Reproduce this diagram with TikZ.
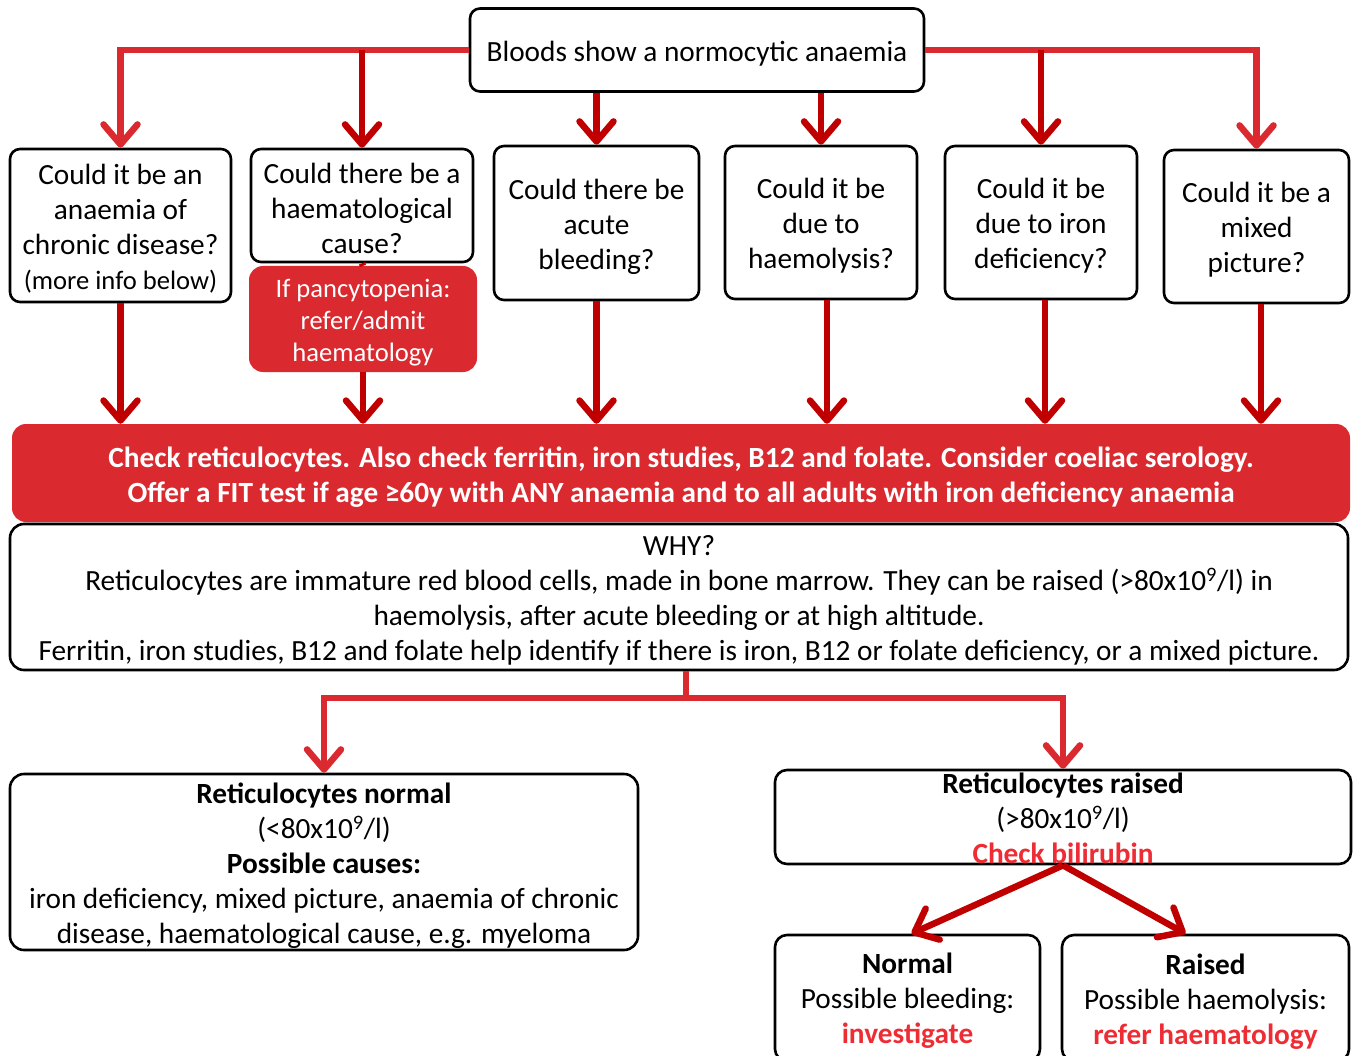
\documentclass[tikz,border=0pt]{standalone}
\usepackage{fontspec}
\setmainfont{Carlito}
\usetikzlibrary{arrows.meta}
\definecolor{lred}{RGB}{218,41,47}
\definecolor{dred}{RGB}{192,0,0}
\definecolor{tred}{RGB}{238,44,52}
\newcommand{\mainfs}{\fontsize{29.3}{35}\selectfont}
\newcommand{\smallfs}{\fontsize{26.6}{32}\selectfont}
\tikzset{
  box/.style={draw=black, line width=2.6pt, rounded corners=10pt, fill=white, inner sep=0pt},
  redbox/.style={fill=lred, rounded corners=14pt, inner sep=0pt},
  txt/.style={align=center, font=\mainfs, inner sep=0pt},
  wtxt/.style={txt, text=white},
  tip/.style={-{Straight Barb[length=20pt,width=34pt,line join=round,line cap=round]}},
  larrow/.style={draw=lred, line width=6.5pt, tip},
  darrow/.style={draw=dred, line width=6.5pt, tip},
}
\begin{document}
\begin{tikzpicture}[x=1pt,y=-1pt]
\useasboundingbox (0,0) rectangle (1356,1056);
\clip (0,0) rectangle (1356,1056);
\fill[white] (0,0) rectangle (1356,1056);

% boxes
\node[box, minimum width=454, minimum height=83] (top) at (697,50) {};
\node[box, minimum width=221, minimum height=153] (b1) at (120.5,225.5) {};
\node[box, minimum width=222, minimum height=113] (b2) at (362,205.5) {};
\node[box, minimum width=205, minimum height=154] (b3) at (596.5,223) {};
\node[box, minimum width=192, minimum height=153] (b4) at (821,222.5) {};
\node[box, minimum width=192, minimum height=153] (b5) at (1041,222.5) {};
\node[box, minimum width=185, minimum height=153] (b6) at (1256.5,226.5) {};
\node[redbox, minimum width=228, minimum height=106] (pan) at (363,319) {};
\node[redbox, minimum width=1338, minimum height=98] (banner) at (681,473) {};
\node[box, minimum width=1338, minimum height=146, rounded corners=14pt] (why) at (679,597) {};
\node[box, minimum width=628, minimum height=176, rounded corners=14pt] (rn) at (324,862) {};
\node[box, minimum width=576, minimum height=94, rounded corners=12pt] (rr) at (1063,817) {};
\node[box, minimum width=265, minimum height=126, rounded corners=12pt] (bn) at (907.5,998) {};
\node[box, minimum width=287, minimum height=126, rounded corners=12pt] (br) at (1205.5,998) {};

% texts
\node[txt] (ttop) at ([yshift=-3.5pt]top.center) {Bloods show a normocytic anaemia};
\node[txt] (tb1) at ([yshift=-3pt]b1.center) {Could it be an\\anaemia of\\chronic disease?\\{\smallfs(more info below)}};
\node[txt] (tb2) at ([yshift=-3pt]b2.center) {Could there be a\\haematological\\cause?};
\node[txt] (tb3) at ([yshift=-3.5pt]b3.center) {Could there be\\acute\\bleeding?};
\node[txt] (tb4) at ([yshift=-3.5pt]b4.center) {Could it be\\due to\\haemolysis?};
\node[txt] (tb5) at ([yshift=-3.5pt]b5.center) {Could it be\\due to iron\\deficiency?};
\node[txt] (tb6) at ([yshift=-3.5pt]b6.center) {Could it be a\\mixed\\picture?};
\node[wtxt, font=\smallfs] (tpan) at ([yshift=-3.5pt]pan.center) {If pancytopenia:\\refer/admit\\haematology};
\node[wtxt, font=\mainfs\bfseries] (tbanner) at ([yshift=-4pt]banner.center) {Check reticulocytes. Also check ferritin, iron studies, B12 and folate. Consider coeliac serology.\\Offer a FIT test if age ≥60y with ANY anaemia and to all adults with iron deficiency anaemia};
\node[txt] (twhy) at ([yshift=-3.5pt]why.center) {WHY?\\Reticulocytes are immature red blood cells, made in bone marrow. They can be raised (>80x10\textsuperscript{9}/l) in\\haemolysis, after acute bleeding or at high altitude.\\Ferritin, iron studies, B12 and folate help identify if there is iron, B12 or folate deficiency, or a mixed picture.};
\node[txt] (trn) at ([yshift=-3.5pt]rn.center) {\textbf{Reticulocytes normal}\\(<80x10\textsuperscript{9}/l)\\\textbf{Possible causes:}\\iron deficiency, mixed picture, anaemia of chronic\\disease, haematological cause, e.g. myeloma};
\node[txt] (trr) at ([yshift=-1.5pt]rr.center) {\textbf{Reticulocytes raised}\\(>80x10\textsuperscript{9}/l)\\\textcolor{tred}{\textbf{Check bilirubin}}};
\node[txt] (tbn) at ([yshift=-3pt]bn.center) {\textbf{Normal}\\Possible bleeding:\\\textcolor{tred}{\textbf{investigate}}};
\node[txt] (tbr) at ([yshift=-3.5pt]br.center) {\textbf{Raised}\\Possible haemolysis:\\\textcolor{tred}{\textbf{refer haematology}}};

% top connectors
\draw[larrow] (top.west) -| (b1.north);
\draw[larrow] (top.east) -| (b6.north);
\draw[darrow] (b2.north |- top.west) -- (b2.north);
\draw[darrow] (b5.north |- top.east) -- (b5.north);
\draw[darrow] (b3.north |- top.south) -- (b3.north);
\draw[darrow] (b4.north |- top.south) -- (b4.north);
% down to banner
\draw[darrow] (b1.south) -- (b1.south |- banner.north);
\draw[dred, line width=6.5pt] (b2.south) -- (pan.north);
\draw[darrow] (pan.south) -- (pan.south |- banner.north);
\draw[darrow] (b3.south) -- (b3.south |- banner.north);
\draw[darrow] ([xshift=6pt]b4.south) -- ([xshift=6pt]b4.south |- banner.north);
\draw[darrow] ([xshift=4pt]b5.south) -- ([xshift=4pt]b5.south |- banner.north);
\draw[darrow] ([xshift=4.5pt]b6.south) -- ([xshift=4.5pt]b6.south |- banner.north);
% why split
\coordinate (split) at (686,698);
\draw[lred, line width=6.5pt] ([xshift=7pt]why.south) -- (split);
\draw[larrow] (split) -| (rn.north);
\draw[larrow] (split) -| (rr.north);
% bilirubin split
\draw[darrow] (rr.south) -- ([xshift=4pt]bn.north);
\draw[darrow] (rr.south) -- ([xshift=-20pt]br.north);
\end{tikzpicture}
\end{document}
